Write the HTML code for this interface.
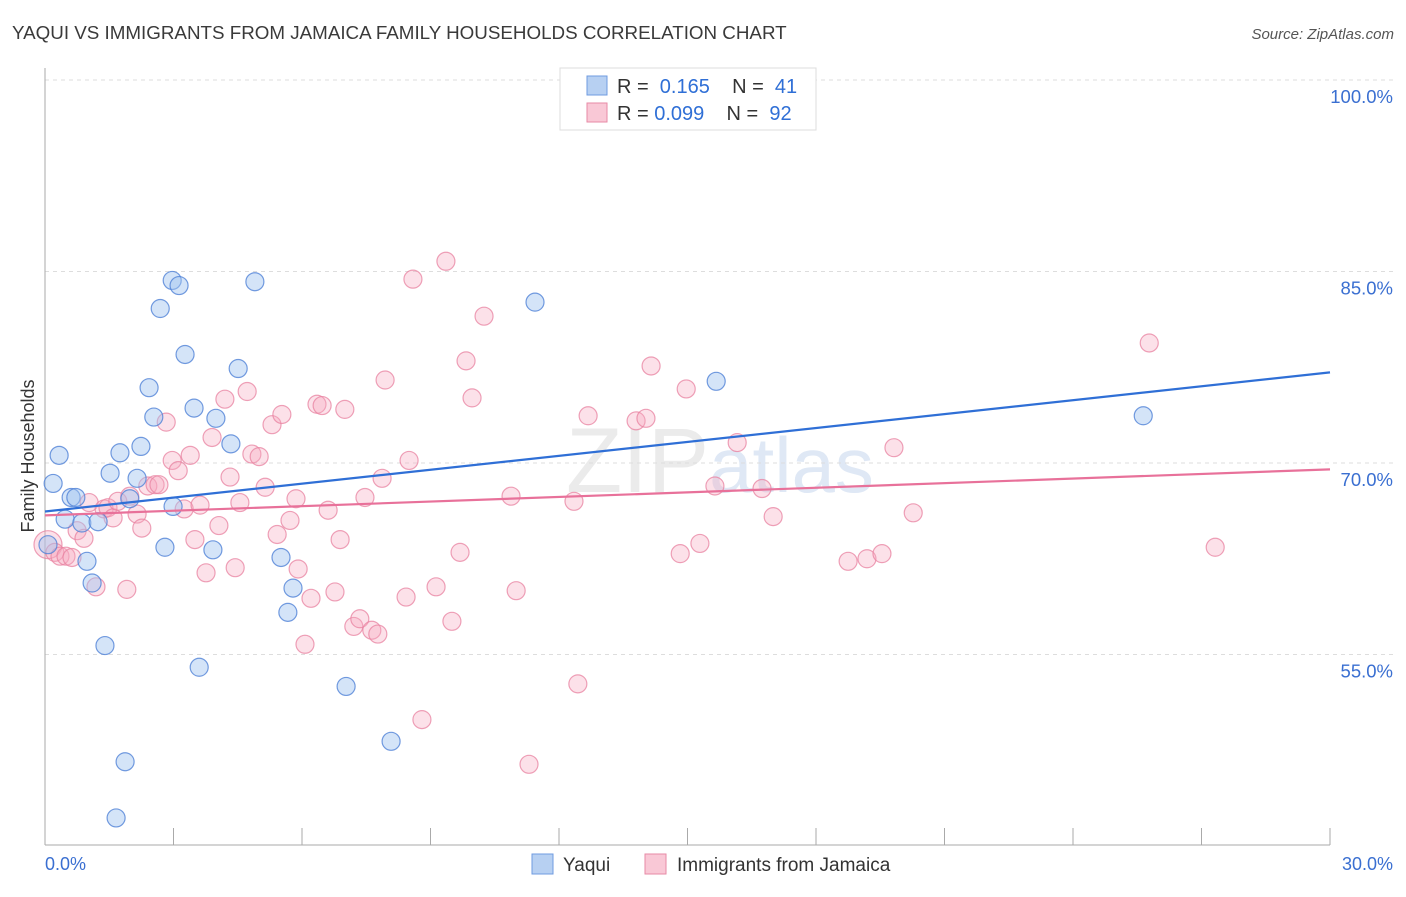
<!DOCTYPE html>
<html><head><meta charset="utf-8"><style>
body{margin:0;background:#fff;font-family:"Liberation Sans",sans-serif;}
svg text{font-family:"Liberation Sans",sans-serif;}
</style></head><body>
<svg id="chart" width="1406" height="892" xmlns="http://www.w3.org/2000/svg">
<text x="12" y="39" font-size="18.8" fill="#3a3a3a">YAQUI VS IMMIGRANTS FROM JAMAICA FAMILY HOUSEHOLDS CORRELATION CHART</text>
<text x="1394" y="39" font-size="15" fill="#555" font-style="italic" text-anchor="end">Source: ZipAtlas.com</text>
<text x="720" y="492" font-size="92" fill="#ebebeb" text-anchor="middle" font-family="Liberation Serif,serif">ZIP<tspan fill="#dfe8f5" font-family="Liberation Sans,sans-serif" font-size="78">atlas</tspan></text>
<g id="grid"></g>
<g id="axes"></g>
<g id="pts"></g>
<g id="trends"></g>
<text transform="translate(34,456) rotate(-90)" font-size="18" fill="#333" text-anchor="middle">Family Households</text>
<g>
<rect x="560" y="68" width="256" height="62" fill="#fff" stroke="#ddd"/>
<rect x="587" y="76" width="20" height="19" fill="#b7d0f2" stroke="#6f9be0"/>
<rect x="587" y="103" width="20" height="19" fill="#f9c8d6" stroke="#e78aa6"/>
<text x="617" y="93" font-size="20" fill="#333">R = <tspan fill="#2f6fd6">&#160;0.165</tspan>&#160;&#160;&#160;&#160;N = <tspan fill="#2f6fd6">&#160;41</tspan></text>
<text x="617" y="120" font-size="20" fill="#333">R = <tspan fill="#2f6fd6">0.099</tspan>&#160;&#160;&#160;&#160;N = <tspan fill="#2f6fd6">&#160;92</tspan></text>
</g>
<g>
<rect x="532" y="854" width="21" height="20" fill="#b7d0f2" stroke="#6f9be0"/>
<text x="563" y="871" font-size="19" fill="#333">Yaqui</text>
<rect x="645" y="854" width="21" height="20" fill="#f9c8d6" stroke="#e78aa6"/>
<text x="677" y="871" font-size="19" fill="#333">Immigrants from Jamaica</text>
</g>
</svg>
<script>
const yTicks=[100,85,70,55];
const yTickLabels=["100.0%","85.0%","70.0%","55.0%"];
const xTicks=[0,3,6,9,12,15,18,21,24,27,30];
const xEndLabels=["0.0%","30.0%"];
const yaquiX=[0.19,0.33,0.47,0.61,0.72,0.86,0.98,1.10,1.24,1.40,1.52,1.75,1.87,1.66,1.98,2.15,2.24,2.43,2.54,2.69,2.80,2.97,3.13,3.27,3.48,3.60,3.92,3.99,4.34,4.51,4.90,5.51,5.67,5.79,7.03,8.08,11.44,15.67,25.64,0.07,2.99];
const yaquiY=[68.4,70.6,65.6,67.3,67.3,65.3,62.3,60.6,65.4,55.7,69.2,70.8,46.6,42.2,67.2,68.8,71.3,75.9,73.6,82.1,63.4,84.3,83.9,78.5,74.3,54.0,63.2,73.5,71.5,77.4,84.2,62.6,58.3,60.2,52.5,48.2,82.6,76.4,73.7,63.6,66.6];
const jamX=[0.07,0.23,0.35,0.49,0.63,0.75,0.91,1.03,1.19,1.38,1.47,1.59,1.70,1.91,1.98,2.15,2.26,2.40,2.57,2.66,2.83,2.97,3.11,3.25,3.39,3.50,3.62,3.76,3.90,4.06,4.20,4.32,4.44,4.55,4.72,4.83,5.00,5.14,5.30,5.42,5.53,5.72,5.86,5.91,6.07,6.21,6.35,6.47,6.61,6.77,6.89,7.00,7.21,7.35,7.47,7.63,7.77,7.87,7.94,8.50,8.43,8.59,8.80,9.13,9.36,9.50,9.69,9.83,9.97,10.25,10.88,11.00,11.30,12.35,12.44,12.68,13.80,14.03,14.15,14.83,14.97,15.29,15.64,16.16,16.74,17.00,18.75,19.19,19.54,19.82,20.27,25.78,27.32];
const jamY=[63.6,63.0,62.7,62.7,62.6,64.7,64.1,66.9,60.3,66.4,66.5,65.7,67.0,60.1,67.4,66.0,64.9,68.2,68.3,68.3,73.2,70.2,69.4,66.4,70.6,64.0,66.7,61.4,72.0,65.1,75.0,68.9,61.8,66.9,75.6,70.7,70.5,68.1,73.0,64.4,73.8,65.5,67.2,61.7,55.8,59.4,74.6,74.5,66.3,59.9,64.0,74.2,57.2,57.8,67.3,56.9,56.6,68.8,76.5,70.2,59.5,84.4,49.9,60.3,85.8,57.6,63.0,78.0,75.1,81.5,67.4,60.0,46.4,67.0,52.7,73.7,73.3,73.5,77.6,62.9,75.8,63.7,68.2,71.6,68.0,65.8,62.3,62.5,62.9,71.2,66.1,79.4,63.4];
const trendX=[0,30];
const yaquiTrend=[66.2,77.1];
const jamTrend=[65.9,69.5];

const NS="http://www.w3.org/2000/svg";
const sx=v=>45+v*(1285/30);
const sy=v=>80+(100-v)*(191.5/15);
function mk(tag,attrs,parent){const e=document.createElementNS(NS,tag);for(const k in attrs)e.setAttribute(k,attrs[k]);parent.appendChild(e);return e;}
const grid=document.getElementById('grid'),axes=document.getElementById('axes'),pts=document.getElementById('pts'),tr=document.getElementById('trends');
yTicks.forEach((t,i)=>{
  const l=mk('line',{x1:45,x2:1395,y1:sy(t),y2:sy(t),stroke:'#ddd','stroke-dasharray':'4,4'},grid);
  
  
  const tx=mk('text',{x:1393,y:sy(t)+23,'font-size':18.5,fill:'#3a6fd1','text-anchor':'end'},grid);
  tx.textContent=yTickLabels[i];
  
  
});
const ya=mk('line',{x1:45,x2:45,y1:68,y2:845,stroke:'#aaa'},axes);


const xa=mk('line',{x1:45,x2:1330,y1:845,y2:845,stroke:'#aaa'},axes);


xTicks.forEach(t=>{
  const l=mk('line',{x1:sx(t),x2:sx(t),y1:828,y2:845,stroke:'#aaa'},axes);
  
  
});
const xl0=mk('text',{x:45,y:870,'font-size':18,fill:'#3a6fd1'},axes);xl0.textContent=xEndLabels[0];


const xl1=mk('text',{x:1393,y:870,'font-size':18,fill:'#3a6fd1','text-anchor':'end'},axes);xl1.textContent=xEndLabels[1];


jamX.forEach((x,i)=>{
  const c=mk('circle',{cx:sx(x),cy:sy(jamY[i]),r:i===0?14:9,fill:'rgba(246,170,193,0.35)',stroke:'rgba(232,130,160,0.75)','stroke-width':1.2},pts);
  
  
});
yaquiX.forEach((x,i)=>{
  const c=mk('circle',{cx:sx(x),cy:sy(yaquiY[i]),r:9,fill:'rgba(160,195,240,0.45)',stroke:'rgba(80,130,215,0.8)','stroke-width':1.2},pts);
  
  
});
const t1=mk('line',{x1:sx(trendX[0]),y1:sy(yaquiTrend[0]),x2:sx(trendX[1]),y2:sy(yaquiTrend[1]),stroke:'#2f6fd6','stroke-width':2.2},tr);


const t2=mk('line',{x1:sx(trendX[0]),y1:sy(jamTrend[0]),x2:sx(trendX[1]),y2:sy(jamTrend[1]),stroke:'#e8719a','stroke-width':2.2},tr);


</script>
</body></html>
